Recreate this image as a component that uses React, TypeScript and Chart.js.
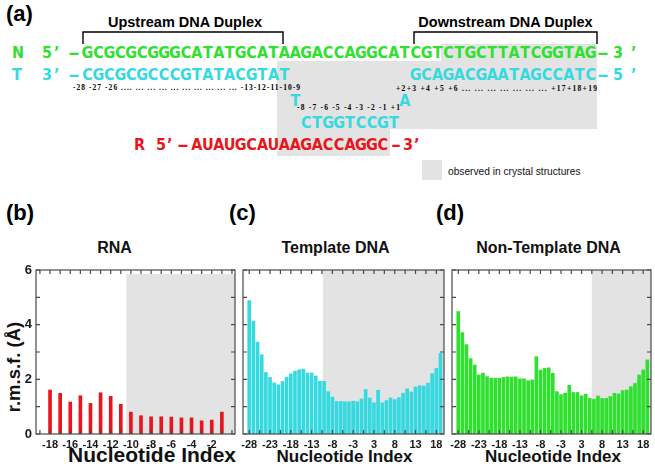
import React, { useEffect, useRef } from "react";
import { Chart, registerables } from "chart.js";

Chart.register(...registerables);

// ---------------- data ----------------
const rnaIndex = [-18, -17, -16, -15, -14, -13, -12, -11, -10, -9, -8, -7, -6, -5, -4, -3, -2, -1];
const rnaRmsf = [1.61, 1.49, 1.17, 1.4, 1.12, 1.51, 1.38, 1.09, 0.8, 0.67, 0.63, 0.63, 0.62, 0.59, 0.59, 0.48, 0.51, 0.8];

const dnaIndex = [
  -28, -27, -26, -25, -24, -23, -22, -21, -20, -19, -18, -17, -16, -15, -14, -13, -12, -11, -10, -9, -8, -7, -6, -5, -4, -3, -2, -1,
  1, 2, 3, 4, 5, 6, 7, 8, 9, 10, 11, 12, 13, 14, 15, 16, 17, 18, 19,
];
const templateRmsf = [
  4.88, 4.13, 3.36, 2.9, 2.25, 2.07, 1.87, 1.8, 1.92, 2.08, 2.2, 2.3, 2.35, 2.37, 2.23, 2.23, 2.12, 1.93, 1.93, 1.55, 1.35, 1.19, 1.19, 1.18, 1.18, 1.2, 1.18, 1.28,
  1.63, 1.32, 1.14, 1.6, 1.14, 1.22, 1.32, 1.26, 1.33, 1.49, 1.65, 1.54, 1.72, 1.77, 1.76, 1.86, 2.21, 2.4, 2.95,
];
const nonTemplateRmsf = [
  4.48, 3.71, 3.27, 2.76, 2.52, 2.16, 2.23, 2.1, 2.04, 2.04, 2.04, 2.07, 2.09, 2.08, 2.09, 2.02, 2.02, 1.95, 1.98, 2.83, 2.34, 2.4, 2.42, 2.22, 1.55, 1.44, 1.49, 1.78,
  1.52, 1.52, 1.4, 1.46, 1.3, 1.27, 1.39, 1.3, 1.3, 1.37, 1.49, 1.46, 1.59, 1.61, 1.73, 1.85, 2.16, 2.34, 2.71,
];

const rnaTickLabels = [-18, -16, -14, -12, -10, -8, -6, -4, -2];
const dnaTickLabels = [-28, -23, -18, -13, -8, -3, 3, 8, 13, 18];
const yTickLabels = [0, 2, 4, 6];

// sequences of panel (a)
const nStrand = "GCGCGCGGGCATATGCATAAGACCAGGCATCGTCTGCTTATCGGTAG";
const tUpstream = "CGCGCGCCCGTATACGTAT";
const tFlip1 = "T";
const tBubble = "CTGGTCCGT";
const tFlip2 = "A";
const tDownstream = "GCAGACGAATAGCCATC";
const rStrand = "AUAUGCAUAAGACCAGGC";

// ---------------- styles ----------------
const GREEN = "#2fe02f";
const CYAN = "#36d9df";
const RED = "#e8161c";
const SHADE = "#e3e3e3";
const AX_FONT = "'Liberation Sans', Arial, sans-serif";

const shadePlugin = {
  id: "shade",
  beforeDatasetsDraw(chart: any, _a: any, o: any) {
    const { ctx, chartArea: ca, scales } = chart;
    const x0 = scales.x.getPixelForValue(o.from);
    const y0 = scales.y.getPixelForValue(o.top);
    ctx.save();
    ctx.fillStyle = SHADE;
    ctx.fillRect(x0, y0, ca.right - x0, ca.bottom - y0);
    ctx.restore();
  },
};

const framePlugin = {
  id: "frame",
  afterDatasetsDraw(chart: any, _a: any, o: any) {
    const { ctx, chartArea: ca, scales } = chart;
    const L = 4;
    ctx.save();
    ctx.strokeStyle = "#4a4a4a";
    ctx.lineWidth = 1.2;
    ctx.strokeRect(ca.left, ca.top, ca.right - ca.left, ca.bottom - ca.top);
    ctx.beginPath();
    for (const v of o.xTicks) {
      const px = scales.x.getPixelForValue(v);
      ctx.moveTo(px, ca.top);
      ctx.lineTo(px, ca.top + L);
      ctx.moveTo(px, ca.bottom);
      ctx.lineTo(px, ca.bottom - L);
    }
    for (let v = 0; v <= 6; v++) {
      const py = scales.y.getPixelForValue(v);
      ctx.moveTo(ca.left, py);
      ctx.lineTo(ca.left + L, py);
      ctx.moveTo(ca.right, py);
      ctx.lineTo(ca.right - L, py);
    }
    ctx.stroke();
    ctx.restore();
  },
};

type PanelCfg = {
  index: number[];
  values: number[];
  tickLabels: number[];
  color: string;
  xMin: number;
  xMax: number;
  minorTicks: number[];
  shadeFrom: number;
  shadeTop: number;
  padLeft: number;
  padRight: number;
  showY: boolean;
};

function buildConfig(c: PanelCfg): any {
  const tickPos = c.tickLabels.map((t) => c.index.indexOf(t));
  return {
    type: "bar",
    data: {
      datasets: [
        {
          data: c.values.map((v, i) => ({ x: i, y: v })),
          backgroundColor: c.color,
          borderWidth: 0,
          barThickness: 3,
        },
      ],
    },
    options: {
      animation: false,
      responsive: false,
      maintainAspectRatio: false,
      layout: { padding: { left: c.padLeft, right: c.padRight, top: 20, bottom: 0 } },
      plugins: {
        legend: { display: false },
        tooltip: { enabled: false },
        shade: { from: c.shadeFrom, top: c.shadeTop },
        frame: { xTicks: c.minorTicks },
      },
      scales: {
        x: {
          type: "linear",
          min: c.xMin,
          max: c.xMax,
          offset: false,
          grid: { display: false, drawTicks: false },
          border: { display: false },
          afterBuildTicks: (s: any) => {
            s.ticks = tickPos.map((v) => ({ value: v }));
          },
          afterFit: (s: any) => {
            s.height = 32;
          },
          ticks: {
            autoSkip: false,
            maxRotation: 0,
            padding: 4,
            color: "#1a1a1a",
            font: { family: AX_FONT, weight: "bold", size: 11 },
            callback: (v: any) => String(c.index[Math.round(v)]),
          },
        },
        y: {
          min: 0,
          max: 6,
          grid: { display: false, drawTicks: false },
          border: { display: false },
          afterFit: (s: any) => {
            s.width = c.showY ? 36 : 0;
          },
          afterBuildTicks: (s: any) => {
            s.ticks = yTickLabels.map((v) => ({ value: v }));
          },
          ticks: {
            display: c.showY,
            padding: 4,
            color: "#1a1a1a",
            font: { family: AX_FONT, weight: "bold", size: 13 },
          },
        },
      },
    },
    plugins: [shadePlugin, framePlugin],
  };
}

function BarPanel({ cfg }: { cfg: PanelCfg }) {
  const ref = useRef<HTMLCanvasElement>(null);
  useEffect(() => {
    const chart = new Chart(ref.current as HTMLCanvasElement, buildConfig(cfg));
    return () => chart.destroy();
  }, []);
  return (
    <canvas
      ref={ref}
      width={655}
      height={216}
      style={{ position: "absolute", left: 0, top: 250, width: 655, height: 216 }}
    />
  );
}

const range = (a: number, b: number, s: number) => {
  const out: number[] = [];
  for (let v = a; v <= b + 1e-9; v += s) out.push(v);
  return out;
};

const panelB: PanelCfg = {
  index: rnaIndex,
  values: rnaRmsf,
  tickLabels: rnaTickLabels,
  color: RED,
  xMin: -1.39,
  xMax: 18.3,
  minorTicks: range(-1, 18, 1),
  shadeFrom: 7.55,
  shadeTop: 5.85,
  padLeft: 0,
  padRight: 420,
  showY: true,
};
const panelC: PanelCfg = {
  index: dnaIndex,
  values: templateRmsf,
  tickLabels: dnaTickLabels,
  color: CYAN,
  xMin: -1.5,
  xMax: 46.85,
  minorTicks: range(0, 45, 2.5),
  shadeFrom: 17.7,
  shadeTop: 6,
  padLeft: 243,
  padRight: 211,
  showY: false,
};
const panelD: PanelCfg = {
  index: dnaIndex,
  values: nonTemplateRmsf,
  tickLabels: dnaTickLabels,
  color: GREEN,
  xMin: -1.53,
  xMax: 46.9,
  minorTicks: range(0, 45, 2.5),
  shadeFrom: 32.5,
  shadeTop: 6,
  padLeft: 452,
  padRight: 4,
  showY: false,
};

// ---------------- panel (a) helpers ----------------
const PITCH = 10.94;
const X0 = 82;
const cx = (i: number) => X0 + PITCH * (i + 0.5);

const seqStyle: React.CSSProperties = {
  fontFamily: "'DejaVu Sans Condensed', 'DejaVu Sans', sans-serif",
  fontStretch: "condensed",
  fontWeight: "bold",
  fontSize: 16,
};
const numStyle: React.CSSProperties = {
  fontFamily: "'Liberation Serif', 'Times New Roman', serif",
  fontWeight: "bold",
  fontSize: 7.5,
};
const boldSans = (size: number): React.CSSProperties => ({
  fontFamily: AX_FONT,
  fontWeight: "bold",
  fontSize: size,
});

function Seq({ text, start, y, color }: { text: string; start: number; y: number; color: string }) {
  const xs = Array.from(text)
    .map((_, k) => cx(start + k).toFixed(2))
    .join(" ");
  return (
    <text x={xs} y={y} fill={color} textAnchor="middle" style={seqStyle}>
      {text}
    </text>
  );
}

function Glyphs({ chars, xs, y, color }: { chars: string; xs: number[]; y: number; color: string }) {
  return (
    <text x={xs.join(" ")} y={y} fill={color} style={seqStyle}>
      {chars}
    </text>
  );
}

function Dash({ x, w, y, color }: { x: number; w: number; y: number; color: string }) {
  return (
    <text x={x} y={y} fill={color} style={seqStyle} textLength={w} lengthAdjust="spacingAndGlyphs">
      -
    </text>
  );
}

export default function App() {
  return (
    <div
      style={{
        position: "absolute",
        left: 0,
        top: 0,
        width: 655,
        height: 466,
        background: "#ffffff",
        overflow: "hidden",
      }}
    >
      <svg width={655} height={466} style={{ position: "absolute", left: 0, top: 0 }}>
        {/* shaded region: observed in crystal structures */}
        <rect x={441} y={44} width={156} height={18} fill={SHADE} />
        <rect x={277} y={61} width={320} height={68} fill={SHADE} />
        <rect x={277} y={128} width={113} height={28} fill={SHADE} />
        <rect x={422} y={160} width={20} height={20} fill={SHADE} />
        <text x={448} y={175} style={{ fontFamily: AX_FONT, fontSize: 10.2 }} fill="#111">
          observed in crystal structures
        </text>

        <text x={6} y={21} style={boldSans(22)} fill="#000">
          (a)
        </text>
        <text x={185} y={27} textAnchor="middle" style={boldSans(14.5)} fill="#000">
          Upstream DNA Duplex
        </text>
        <text x={505.5} y={27} textAnchor="middle" style={boldSans(14.5)} fill="#000">
          Downstream DNA Duplex
        </text>
        <path d="M83,44 V32 H283 V44" fill="none" stroke="#000" strokeWidth={1.4} />
        <path d="M414,44 V32 H597 V44" fill="none" stroke="#000" strokeWidth={1.4} />

        {/* N strand */}
        <Glyphs chars={"N5’"} xs={[12, 42, 54]} y={58} color={GREEN} />
        <Dash x={68} w={12} y={58} color={GREEN} />
        <Seq text={nStrand} start={0} y={58} color={GREEN} />
        <Dash x={597} w={12} y={58} color={GREEN} />
        <Glyphs chars={"3’"} xs={[613, 631]} y={58} color={GREEN} />

        {/* T strand */}
        <Glyphs chars={"T3’"} xs={[12, 42, 54]} y={80} color={CYAN} />
        <Dash x={68} w={12} y={80} color={CYAN} />
        <Seq text={tUpstream} start={0} y={80} color={CYAN} />
        <Seq text={tFlip1} start={19} y={106} color={CYAN} />
        <Seq text={tBubble} start={20} y={128} color={CYAN} />
        <Seq text={tFlip2} start={29} y={106} color={CYAN} />
        <Seq text={tDownstream} start={30} y={80} color={CYAN} />
        <Dash x={597} w={12} y={80} color={CYAN} />
        <Glyphs chars={"5’"} xs={[613, 631]} y={80} color={CYAN} />

        {/* numbering */}
        <text x={73} y={90} textLength={227} lengthAdjust="spacing" style={numStyle} fill="#000">
          -28 -27 -26 .... ... ... ... ... ... ... ... ... ... -13-12-11-10-9
        </text>
        <text x={396} y={91} textLength={201} lengthAdjust="spacing" style={numStyle} fill="#000">
          +2+3 +4 +5 +6 ... ... ... ... ... ... ... +17+18+19
        </text>
        <text x={297} y={110} textLength={103} lengthAdjust="spacing" style={numStyle} fill="#000">
          -8 -7 -6 -5 -4 -3 -2 -1 +1
        </text>

        {/* RNA */}
        <Glyphs chars={"R5’"} xs={[134, 156, 167]} y={150} color={RED} />
        <Dash x={177} w={12} y={150} color={RED} />
        <Seq text={rStrand} start={10} y={150} color={RED} />
        <Dash x={391} w={10} y={150} color={RED} />
        <Glyphs chars={"3’"} xs={[403, 414]} y={150} color={RED} />

        {/* panel letters and titles */}
        <text x={6} y={220} style={boldSans(22)} fill="#000">
          (b)
        </text>
        <text x={229} y={220} style={boldSans(22)} fill="#000">
          (c)
        </text>
        <text x={436} y={220} style={boldSans(22)} fill="#000">
          (d)
        </text>
        <text x={114.5} y={253} textAnchor="middle" style={boldSans(16)} fill="#111">
          RNA
        </text>
        <text x={335.5} y={253} textAnchor="middle" style={boldSans(16)} fill="#111">
          Template DNA
        </text>
        <text x={548.5} y={253} textAnchor="middle" style={boldSans(16)} fill="#111">
          Non-Template DNA
        </text>
        <text x={152} y={462} textAnchor="middle" style={boldSans(21)} fill="#111">
          Nucleotide Index
        </text>
        <text x={344.5} y={462} textAnchor="middle" style={boldSans(17)} fill="#111">
          Nucleotide Index
        </text>
        <text x={553} y={462} textAnchor="middle" style={boldSans(17)} fill="#111">
          Nucleotide Index
        </text>
        <text transform="translate(20,367) rotate(-90)" textAnchor="middle" style={boldSans(18.5)} fill="#111">
          r.m.s.f. (Å)
        </text>
      </svg>
      <BarPanel cfg={panelB} />
      <BarPanel cfg={panelC} />
      <BarPanel cfg={panelD} />
    </div>
  );
}
